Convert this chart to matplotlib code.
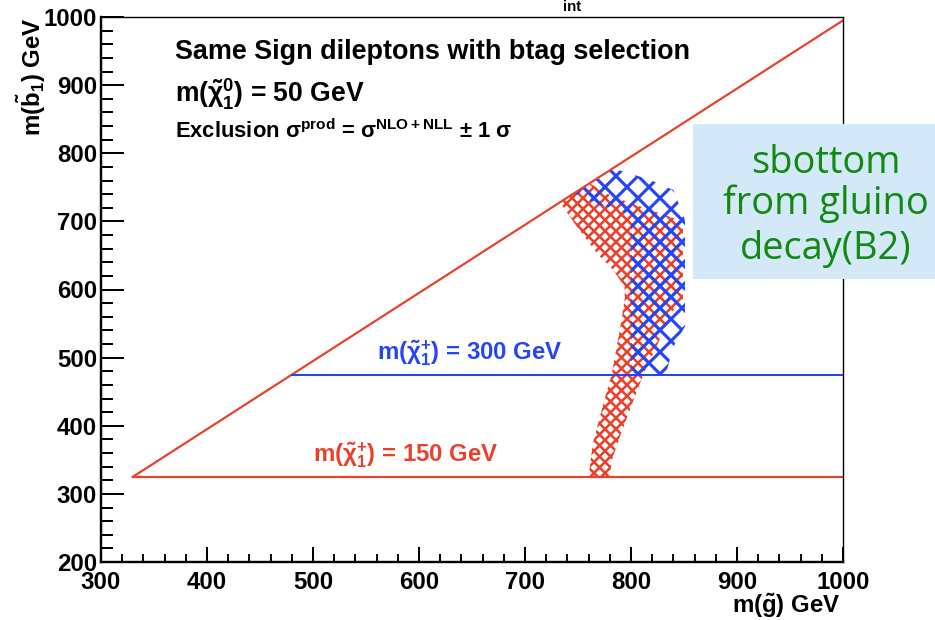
import numpy as np
import matplotlib
matplotlib.use("Agg")
import matplotlib.pyplot as plt
from matplotlib.patches import Polygon, Rectangle

# kinematic limits and chargino mass lines
diag_x = [330, 1000]
diag_y = [325, 995]
line150_x = [330, 1000]
line150_y = [325, 325]
line300_x = [480, 1000]
line300_y = [475, 475]

# excluded band, chargino 150 GeV
red_x = [733, 761, 777, 799, 818, 849, 849, 840, 824, 812, 805, 793, 782, 780,
         760, 764, 774, 782, 790, 794, 794, 783, 768, 749]
red_y = [728, 756, 741, 727, 717, 700, 585, 570, 516, 477, 448, 399, 350, 325,
         325, 374, 433, 477, 546, 585, 604, 629, 653, 692]

# excluded band, chargino 300 GeV
blue_x = [746, 783, 818, 840, 851, 851, 840, 834, 830, 800, 800, 790, 771]
blue_y = [741, 778, 761, 746, 702, 546, 516, 482, 475, 475, 705, 717, 724]

RED = '#e8412c'
BLUE = '#2446f5'
DPI = 66
W, H = 935, 620
PT = 72.0 / DPI  # px -> pt

plt.rcParams['font.family'] = 'Liberation Sans'
plt.rcParams['font.weight'] = 'bold'
plt.rcParams['mathtext.fontset'] = 'custom'
plt.rcParams['mathtext.rm'] = 'Liberation Sans:bold'
plt.rcParams['mathtext.it'] = 'Liberation Sans:italic:bold'
plt.rcParams['mathtext.bf'] = 'Liberation Sans:bold'
plt.rcParams['mathtext.sf'] = 'Liberation Sans:bold'
plt.rcParams['mathtext.default'] = 'rm'
plt.rcParams['hatch.linewidth'] = 3.0

fig = plt.figure(figsize=(W / DPI, H / DPI), dpi=DPI)
ax = fig.add_axes([101 / W, 1 - 562 / H, (843 - 101) / W, (562 - 17) / H])
ax.set_xlim(300, 1000)
ax.set_ylim(200, 1000)

red_band = Polygon(np.column_stack([red_x, red_y]), closed=True, fill=False,
                   hatch='xx', edgecolor=RED, linewidth=0)
blue_band = Polygon(np.column_stack([blue_x, blue_y]), closed=True, fill=False,
                    hatch='x', edgecolor=BLUE, linewidth=0)
for band, hlw in ((red_band, 2.8), (blue_band, 3.4)):
    if hasattr(band, 'set_hatch_linewidth'):
        band.set_hatch_linewidth(hlw)
    ax.add_patch(band)

ax.plot(diag_x, diag_y, color=RED, lw=2.2 * PT)
ax.plot(line150_x, line150_y, color=RED, lw=2.2 * PT)
ax.plot(line300_x, line300_y, color=BLUE, lw=2.0 * PT)

# axes style
ax.set_xticks(np.arange(300, 1001, 100))
ax.set_yticks(np.arange(200, 1001, 100))
ax.set_xticks(np.arange(300, 1001, 20), minor=True)
ax.set_yticks(np.arange(200, 1001, 20), minor=True)
ax.tick_params(axis='both', which='both', direction='in', top=False, right=False,
               width=2 * PT, labelsize=24 * PT)
ax.tick_params(axis='y', which='major', length=23 * PT, pad=4 * PT)
ax.tick_params(axis='y', which='minor', length=12 * PT)
ax.tick_params(axis='x', which='major', length=15 * PT, pad=9 * PT)
ax.tick_params(axis='x', which='minor', length=8 * PT)
for s in ['left', 'bottom']:
    ax.spines[s].set_linewidth(2.4 * PT)
for s in ['top', 'right']:
    ax.spines[s].set_linewidth(1.4 * PT)

tx = (175 - 101) / (843 - 101)
ax.text(tx, (562 - 59) / 545, 'Same Sign dileptons with btag selection',
        transform=ax.transAxes, fontsize=27 * PT, va='baseline')
ax.text(tx, (562 - 102) / 545, r'm($\tilde{\chi}^{0}_{1}$) = 50 GeV',
        transform=ax.transAxes, fontsize=26.5 * PT, va='baseline')
ax.text(tx, (562 - 138) / 545,
        r'Exclusion $\sigma^{\rm prod}$ = $\sigma^{\rm NLO+NLL}$ $\pm$ 1 $\sigma$',
        transform=ax.transAxes, fontsize=22 * PT, va='baseline')

ax.text(560, 497, r'm($\tilde{\chi}^{+}_{1}$) = 300 GeV', color=BLUE,
        fontsize=24 * PT, va='baseline')
ax.text(500, 347, r'm($\tilde{\chi}^{+}_{1}$) = 150 GeV', color=RED,
        fontsize=24 * PT, va='baseline')

fig.text(31 / W, 1 - 17 / H, r'm($\tilde{b}_{1}$) GeV', rotation=90,
         ha='center', va='top', fontsize=24 * PT)
fig.text(841 / W, 1 - 613 / H, r'm($\tilde{g}$) GeV', ha='right',
         va='baseline', fontsize=24 * PT)
fig.text(563 / W, 1 - 11 / H, 'int', ha='left', va='baseline', fontsize=15 * PT)

# note box
fig.add_artist(Rectangle((693 / W, 1 - 279 / H), (W - 693) / W, (279 - 124) / H,
                         transform=fig.transFigure, facecolor='#d3e9f8',
                         edgecolor='none', zorder=5))
for txt, yb in [('sbottom', 173), ('from gluino', 214), ('decay(B2)', 259)]:
    fig.text(826 / W, 1 - yb / H, txt, ha='center', va='baseline',
             fontsize=38 * PT, color='#128a12', fontfamily='Open Sans',
             fontweight='normal', zorder=6)

fig.savefig('out.png', dpi=DPI)
